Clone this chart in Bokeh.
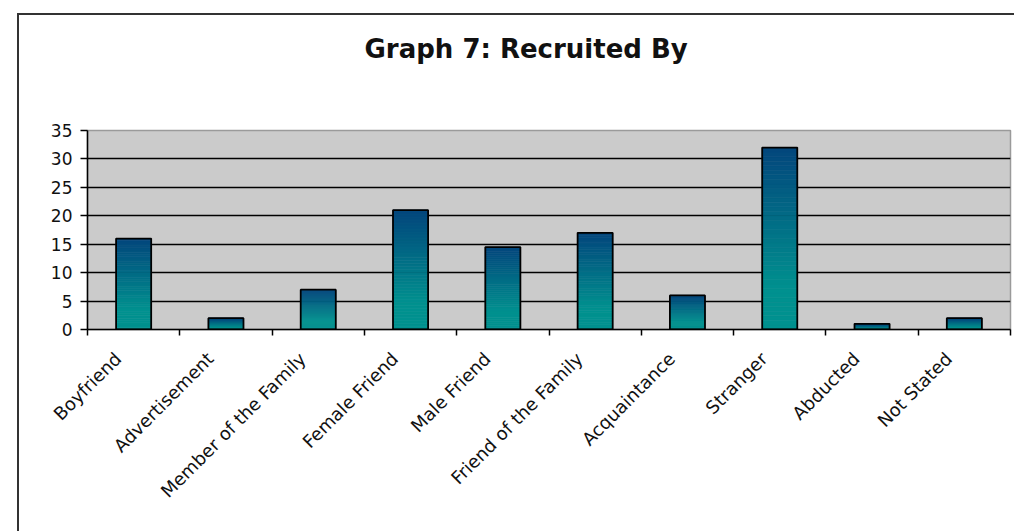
import math

from bokeh.embed import file_html
from bokeh.layouts import column
from bokeh.models import FixedTicker, Range1d, Title
from bokeh.plotting import figure
from bokeh.resources import INLINE

# Chart data
categories = [
    "Boyfriend",
    "Advertisement",
    "Member of the Family",
    "Female Friend",
    "Male Friend",
    "Friend of the Family",
    "Acquaintance",
    "Stranger",
    "Abducted",
    "Not Stated",
]
values = [16, 2, 7, 21, 14.5, 17, 6, 32, 1, 2]
y_ticks = [0, 5, 10, 15, 20, 25, 30, 35]
title_text = "Graph 7: Recruited By"

# Gradient colours for the bars (top of bar -> bottom of bar)
TOP_RGB = (3, 70, 124)
BOTTOM_RGB = (0, 145, 143)
N_SLICES = 40
BAR_WIDTH = 0.38
LABEL_SHIFT = 0.17  # category labels sit slightly left of the bar centres

centers = [i + 0.5 for i in range(len(categories))]
label_pos = [c - LABEL_SHIFT for c in centers]

# Header strip holding the chart title
header = figure(
    width=995,
    height=100,
    output_backend="svg",
    toolbar_location=None,
    x_axis_location=None,
    y_axis_location=None,
    min_border_top=48,
    min_border_bottom=0,
    min_border_left=68,
    min_border_right=4,
    outline_line_color=None,
    background_fill_color="white",
    border_fill_color="white",
    title=Title(
        text=title_text,
        align="left",
        offset=277,
        standoff=0,
        text_font="DejaVu Sans",
        text_font_size="26px",
        text_font_style="bold",
        text_color="#111111",
    ),
)
header.grid.visible = False

p = figure(
    width=995,
    height=416,
    x_range=Range1d(0, len(categories)),
    y_range=Range1d(0, 35),
    output_backend="svg",
    toolbar_location=None,
    min_border_left=68,
    min_border_right=4,
    min_border_top=15,
    min_border_bottom=202,
    background_fill_color="#cbcbcb",
    border_fill_color="white",
    outline_line_color="#9a9a9a",
    outline_line_width=1.5,
)

# Horizontal grid lines
p.xgrid.visible = False
p.ygrid.grid_line_color = "black"
p.ygrid.grid_line_width = 1.5
p.ygrid.ticker = FixedTicker(ticks=y_ticks)

# Gradient-filled bars built from thin slices of each bar
left, right, bottom, top, colors = [], [], [], [], []
for c, v in zip(centers, values):
    for k in range(N_SLICES):
        frac = (k + 0.5) / N_SLICES
        t = min(max((frac - 0.22) / 0.78, 0.0), 1.0)
        rgb = tuple(int(round(b + t * (a - b))) for a, b in zip(TOP_RGB, BOTTOM_RGB))
        left.append(c - BAR_WIDTH / 2)
        right.append(c + BAR_WIDTH / 2)
        bottom.append(v * k / N_SLICES)
        top.append(v * (k + 1) / N_SLICES)
        colors.append("#%02x%02x%02x" % rgb)

p.quad(left=left, right=right, bottom=bottom, top=top,
       fill_color=colors, line_color=colors, line_width=0.6)
p.vbar(x=centers, top=values, width=BAR_WIDTH, bottom=0,
       fill_color=None, line_color="black", line_width=1.8)

# X axis: category names under the bars, tick marks between categories
p.xaxis.ticker = FixedTicker(ticks=label_pos, minor_ticks=list(range(len(categories) + 1)))
p.xaxis.major_label_overrides = {pos: name for pos, name in zip(label_pos, categories)}
p.xaxis.major_tick_out = 0
p.xaxis.major_tick_in = 0
p.xaxis.minor_tick_out = 6
p.xaxis.minor_tick_in = 0
p.xaxis.minor_tick_line_color = "black"
p.xaxis.minor_tick_line_width = 1.5
p.xaxis.axis_line_color = "black"
p.xaxis.axis_line_width = 1.5
p.xaxis.major_label_orientation = math.pi / 4
p.xaxis.major_label_text_font = "DejaVu Sans"
p.xaxis.major_label_text_font_size = "18px"
p.xaxis.major_label_text_color = "#111111"
p.xaxis.major_label_standoff = 20

# Y axis
p.yaxis.ticker = FixedTicker(ticks=y_ticks)
p.yaxis.major_tick_out = 7
p.yaxis.major_tick_in = 0
p.yaxis.minor_tick_out = 0
p.yaxis.minor_tick_in = 0
p.yaxis.major_tick_line_color = "black"
p.yaxis.major_tick_line_width = 1.5
p.yaxis.axis_line_color = "black"
p.yaxis.axis_line_width = 1.5
p.yaxis.major_label_text_font = "DejaVu Sans"
p.yaxis.major_label_text_font_size = "17px"
p.yaxis.major_label_text_color = "#111111"
p.yaxis.major_label_standoff = 8

layout = column(
    header,
    p,
    spacing=0,
    styles={
        "margin-left": "17px",
        "margin-top": "13px",
        "border-left": "2px solid #333333",
        "border-top": "2px solid #333333",
    },
)

open("out.html", "w").write(file_html(layout, INLINE))
